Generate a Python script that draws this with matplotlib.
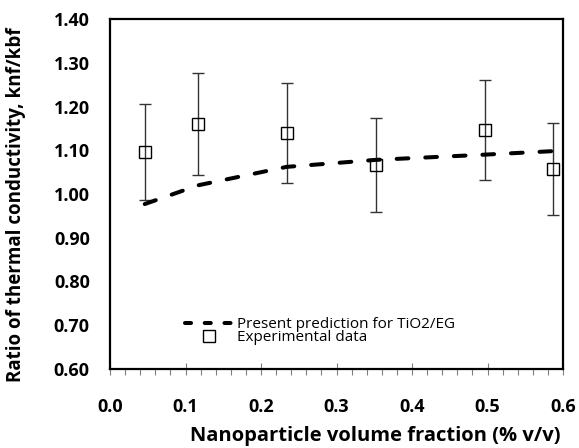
import matplotlib.pyplot as plt
import matplotlib
from matplotlib.lines import Line2D
from matplotlib.ticker import MultipleLocator, FormatStrFormatter

matplotlib.rcParams['font.family'] = ['Open Sans', 'DejaVu Sans']
matplotlib.rcParams['font.size'] = 13

# experimental data (volume fraction, knf/kbf, error bar)
exp_x = [0.046, 0.117, 0.234, 0.352, 0.497, 0.587]
exp_y = [1.096, 1.160, 1.139, 1.066, 1.146, 1.057]
exp_err = [0.110, 0.116, 0.114, 0.107, 0.115, 0.106]

# present prediction
pred_x = [0.046, 0.117, 0.234, 0.352, 0.497, 0.587]
pred_y = [0.977, 1.020, 1.062, 1.078, 1.090, 1.098]

fig = plt.figure(figsize=(5.79, 4.48), dpi=100)
ax = fig.add_axes([110/579, 1 - 369/448, 453/579, 350/448])

ax.errorbar(exp_x, exp_y, yerr=exp_err, fmt='none', ecolor='#333333',
            elinewidth=1.0, capsize=4, capthick=1.0, zorder=2)
ax.plot(exp_x, exp_y, 's', ms=8, mfc='none', mec='black', mew=1.0, zorder=3)
ax.plot(pred_x, pred_y, color='black', lw=2.9, ls=(0, (2.9, 4.2)),
        dash_capstyle='round', zorder=4)

ax.set_xlim(0, 0.6)
ax.set_ylim(0.6, 1.4)
ax.xaxis.set_major_locator(MultipleLocator(0.1))
ax.xaxis.set_minor_locator(MultipleLocator(0.02))
ax.yaxis.set_major_locator(MultipleLocator(0.1))
ax.xaxis.set_major_formatter(FormatStrFormatter('%.1f'))
ax.yaxis.set_major_formatter(FormatStrFormatter('%.2f'))

ax.tick_params(axis='x', which='major', direction='inout', length=8, width=0.8,
               color='#808080', pad=17)
ax.tick_params(axis='x', which='minor', direction='out', length=4, width=0.8,
               color='#808080')
ax.tick_params(axis='y', length=0, pad=14.5)
for lab in ax.get_xticklabels() + ax.get_yticklabels():
    lab.set_fontweight('bold')

for s in ax.spines.values():
    s.set_linewidth(1.6)

ax.set_xlabel('Nanoparticle volume fraction (% v/v)', fontweight='bold', fontsize=14.5)
ax.xaxis.set_label_coords((375 - 110) / 453, (369 - 426) / 350)
ax.set_ylabel('Ratio of thermal conductivity, knf/kbf', fontweight='bold', fontsize=13.5)
ax.yaxis.set_label_coords((26 - 110) / 453, (369 - 205) / 350)

# legend
h_line = Line2D([], [], color='black', lw=2.9, ls=(0, (1.5, 3.4)), dash_capstyle='round')
h_mark = Line2D([], [], ls='none', marker='s', ms=8, mfc='none', mec='black', mew=1.0)
ax.legend([h_line, h_mark], ['Present prediction for TiO2/EG', 'Experimental data'],
          loc='upper left', bbox_to_anchor=((185 - 110) / 453, (369 - 317) / 350),
          frameon=False, fontsize=11, borderpad=0, borderaxespad=0,
          handlelength=3.1, handletextpad=0.33, labelspacing=-0.1)

fig.savefig('out.png', dpi=100)
